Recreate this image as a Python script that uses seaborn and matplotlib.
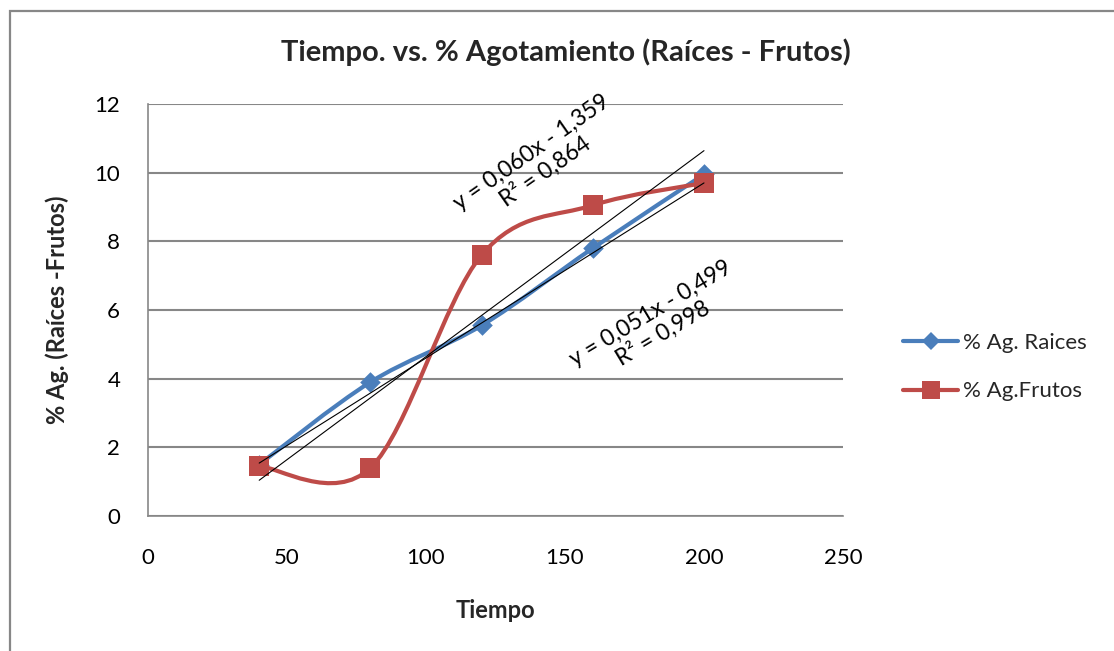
import numpy as np
import pandas as pd
import seaborn as sns
import matplotlib
matplotlib.use("Agg")
import matplotlib.pyplot as plt
from matplotlib.path import Path
from matplotlib.patches import PathPatch, Rectangle
from matplotlib.lines import Line2D

# ---- data -------------------------------------------------------------
tiempo = [40, 80, 120, 160, 200]
ag_raices = [1.5, 3.9, 5.55, 7.8, 9.95]
ag_frutos = [1.45, 1.4, 7.6, 9.05, 9.7]

# linear trend fits: slope, intercept, R^2
trend_raices = (0.051, -0.499, 0.998)
trend_frutos = (0.060, -1.359, 0.864)

x_ticks = [0, 50, 100, 150, 200, 250]
y_ticks = [0, 2, 4, 6, 8, 10, 12]

series_names = ["% Ag. Raices", "% Ag.Frutos"]

# ---- style ------------------------------------------------------------
sns.set_theme(style="white")
plt.rcParams["font.family"] = ["Lato", "DejaVu Sans"]

BLUE = "#4A7EBB"
RED = "#BE4B48"
GRID = "#878787"

fig = plt.figure(figsize=(11.14, 6.51), dpi=100)
ax = fig.add_axes([148 / 1114, 1 - 516 / 651, (843 - 148) / 1114, (516 - 104) / 651])


def smooth_path(xs, ys, tension=1 / 6):
    """Cubic Bezier path through the points (Catmull-Rom style smoothing)."""
    pts = np.column_stack([xs, ys]).astype(float)
    n = len(pts)
    verts = [pts[0]]
    codes = [Path.MOVETO]
    for i in range(n - 1):
        p0 = pts[i - 1] if i > 0 else pts[i]
        p1 = pts[i]
        p2 = pts[i + 1]
        p3 = pts[i + 2] if i + 2 < n else pts[i + 1]
        c1 = p1 + (p2 - p0) * tension
        c2 = p2 - (p3 - p1) * tension
        verts += [c1, c2, p2]
        codes += [Path.CURVE4] * 3
    return Path(verts, codes)


df = pd.DataFrame({
    "Tiempo": tiempo * 2,
    "Ag": ag_raices + ag_frutos,
    "Serie": [series_names[0]] * len(tiempo) + [series_names[1]] * len(tiempo),
})

# smoothed series lines
ax.add_patch(PathPatch(smooth_path(tiempo, ag_raices), facecolor="none",
                       edgecolor=BLUE, lw=3.0, zorder=3, capstyle="round"))
sns.scatterplot(data=df[df.Serie == series_names[0]], x="Tiempo", y="Ag",
                marker="D", s=110, color=BLUE, edgecolor=BLUE, linewidth=0,
                ax=ax, zorder=4, legend=False)
ax.add_patch(PathPatch(smooth_path(tiempo, ag_frutos), facecolor="none",
                       edgecolor=RED, lw=3.0, zorder=5, capstyle="round"))
sns.scatterplot(data=df[df.Serie == series_names[1]], x="Tiempo", y="Ag",
                marker="s", s=200, color=RED, edgecolor=RED, linewidth=0,
                ax=ax, zorder=6, legend=False)

# linear trend lines
x_end = np.array([tiempo[0], tiempo[-1]], dtype=float)
for slope, icpt, _ in (trend_raices, trend_frutos):
    sns.lineplot(x=x_end, y=slope * x_end + icpt, color="black", lw=0.8,
                 ax=ax, zorder=7)


def fmt(v):
    return f"{abs(v):.3f}".replace(".", ",")


def trend_label(tr):
    slope, icpt, r2 = tr
    sign = "-" if icpt < 0 else "+"
    return f"y = {fmt(slope)}x {sign} {fmt(icpt)}\nR² = {fmt(r2)}"


ax.text(140.5, 10.3, trend_label(trend_frutos), rotation=35, ha="center",
        va="center", multialignment="center", fontsize=16.5, color="black",
        rotation_mode="anchor", linespacing=1.1, zorder=8)
ax.text(183, 5.6, trend_label(trend_raices), rotation=31, ha="center",
        va="center", multialignment="center", fontsize=16.5, color="black",
        rotation_mode="anchor", linespacing=1.1, zorder=8)

# axes
ax.set_xlim(0, 250)
ax.set_ylim(0, 12)
ax.set_xticks(x_ticks)
ax.set_yticks(y_ticks)
ax.tick_params(axis="both", length=0, labelsize=16, colors="black")
ax.tick_params(axis="x", pad=23)
ax.tick_params(axis="y", pad=20)
ax.yaxis.grid(True, color=GRID, lw=1.5)
ax.xaxis.grid(False)
ax.set_axisbelow(True)
for side in ("top", "right"):
    ax.spines[side].set_visible(False)
for side in ("left", "bottom"):
    ax.spines[side].set_color(GRID)
    ax.spines[side].set_linewidth(1.2)

ax.set_xlabel("Tiempo", fontsize=17, fontweight="bold", labelpad=22)
ax.set_ylabel("% Ag. (Raíces -Frutos)", fontsize=17, fontweight="bold", labelpad=18)

fig.text(566 / 1114, 1 - 52 / 651, "Tiempo. vs. % Agotamiento (Raíces - Frutos)",
         ha="center", va="center", fontsize=21, fontweight="bold")

handles = [
    Line2D([], [], color=BLUE, lw=3.0, marker="D", markersize=9, markeredgewidth=0),
    Line2D([], [], color=RED, lw=3.0, marker="s", markersize=13, markeredgewidth=0),
]
fig.legend(handles, series_names, loc="center left",
           bbox_to_anchor=(903 / 1114, 1 - 367 / 651), frameon=False,
           borderpad=0, borderaxespad=0,
           fontsize=16, handlelength=2.48, handletextpad=0.22, labelspacing=1.29)

# outer chart frame
fig.add_artist(Rectangle((10 / 1114, -0.1), 1.2, 1 - 11 / 651 + 0.1,
                         transform=fig.transFigure, facecolor="none",
                         edgecolor=GRID, lw=1.6, zorder=0))

fig.savefig("out.png", dpi=100)
